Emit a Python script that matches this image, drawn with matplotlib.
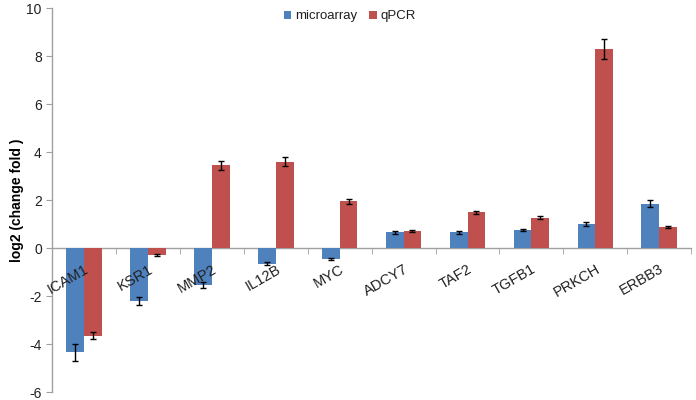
import matplotlib
matplotlib.use("Agg")
import matplotlib.pyplot as plt
import numpy as np
from matplotlib.ticker import FixedLocator

genes = ["ICAM1", "KSR1", "MMP2", "IL12B", "MYC", "ADCY7", "TAF2", "TGFB1", "PRKCH", "ERBB3"]
microarray = [-4.35, -2.2, -1.55, -0.65, -0.45, 0.65, 0.65, 0.75, 1.0, 1.85]
microarray_err = [0.35, 0.17, 0.12, 0.06, 0.04, 0.05, 0.05, 0.06, 0.08, 0.15]
qpcr = [-3.65, -0.3, 3.45, 3.6, 1.95, 0.7, 1.48, 1.27, 8.3, 0.88]
qpcr_err = [0.15, 0.03, 0.18, 0.18, 0.1, 0.03, 0.08, 0.07, 0.42, 0.05]

plt.rcParams['font.family'] = ['Liberation Sans', 'DejaVu Sans']
plt.rcParams['axes.unicode_minus'] = False
fig = plt.figure(figsize=(6.96, 4.0), dpi=100)
ax = fig.add_axes([0.075, 0.02, 0.918, 0.96])
ax.set_axisbelow(False)

x = np.arange(len(genes))
w = 0.277
blue = "#4F81BD"
red = "#C0504D"
ax.bar(x - w/2, microarray, w, color=blue, label="microarray", zorder=2)
ax.bar(x + w/2, qpcr, w, color=red, label="qPCR", zorder=2)
ax.errorbar(x - w/2, microarray, yerr=microarray_err, fmt='none', ecolor='black',
            elinewidth=1, capsize=2.5, capthick=1, zorder=3)
ax.errorbar(x + w/2, qpcr, yerr=qpcr_err, fmt='none', ecolor='black',
            elinewidth=1, capsize=2.5, capthick=1, zorder=3)

ax.set_xlim(-0.5, len(genes) - 0.5)
ax.set_ylim(-6, 10)
ax.set_yticks(np.arange(-6, 11, 2))
ax.tick_params(axis='y', labelsize=10, length=4, color='#A0A0A0', direction='out',
               labelcolor='#202020')

ax.spines['top'].set_visible(False)
ax.spines['right'].set_visible(False)
ax.spines['bottom'].set_position(('data', 0))
for s in ['left', 'bottom']:
    ax.spines[s].set_color('#A0A0A0')
    ax.spines[s].set_linewidth(1)
    ax.spines[s].set_zorder(1.8)

ax.set_xticks(x)
ax.set_xticklabels(genes, rotation=30, ha='right', va='top', rotation_mode='anchor',
                   fontsize=10.5, color='#202020')
ax.tick_params(axis='x', which='major', length=0, pad=10)
ax.xaxis.set_minor_locator(FixedLocator(np.arange(-0.5, len(genes), 1.0)))
ax.tick_params(axis='x', which='minor', length=4, color='#A0A0A0', direction='out')

ax.set_ylabel("log2 (change fold )", fontsize=10, fontweight='bold', labelpad=2)

leg = ax.legend(loc='upper center', bbox_to_anchor=(0.466, 1.025), ncol=2, frameon=False,
                fontsize=9.5, handlelength=0.55, handleheight=0.55, handletextpad=0.3,
                columnspacing=0.9)
for t in leg.get_texts():
    t.set_color('#202020')

fig.savefig("out.png", dpi=100)
